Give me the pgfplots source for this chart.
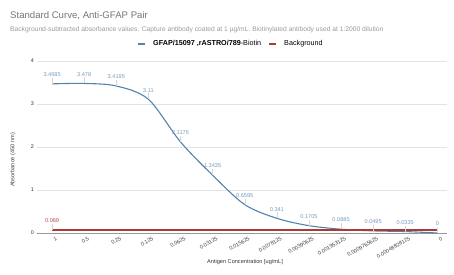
\documentclass[border=0pt]{standalone}
\usepackage{pgfplots}
\pgfplotsset{compat=1.18}
\usepackage{fontspec}
\setmainfont{Liberation Sans}
\definecolor{lineblue}{HTML}{5183AE}
\definecolor{lblblue}{HTML}{739DC2}
\definecolor{linered}{HTML}{AE3A35}
\definecolor{lblred}{HTML}{BB4A45}
\definecolor{titlegray}{HTML}{757575}
\definecolor{subgray}{HTML}{9A9A9A}
\definecolor{gridgray}{HTML}{E3E3E3}
\definecolor{leadgray}{HTML}{D6D6D6}
\begin{document}
\begin{tikzpicture}
\useasboundingbox (0pt,0pt) rectangle (454pt,275pt);
\node[anchor=base west, inner sep=0, text=titlegray, font=\fontsize{9.6}{11}\selectfont] at (10pt,256pt) {Standard Curve, Anti-GFAP Pair};
\node[anchor=base west, inner sep=0, text=subgray, font=\fontsize{6.7}{7}\selectfont] at (10pt,243.5pt) {Background-subtracted absorbance values. Capture antibody coated at 1 µg/mL. Biotinylated antibody used at 1:2000 dilution};
\node[rotate=90, inner sep=0, text=black!75, font=\fontsize{5.6}{6}\selectfont] at (13pt,115pt) {Absorbance (450 nm)};
\node[inner sep=0, text=black!80, font=\fontsize{5.6}{6}\selectfont] at (245pt,13pt) {Antigen Concentration [ug/mL]};
\begin{axis}[
  at={(37pt,42pt)}, anchor=south west,
  scale only axis, width=410pt, height=172pt,
  xmin=-0.47, xmax=12.3, ymin=0, ymax=4,
  axis line style={draw=none},
  xtick={0,...,12},
  xticklabels={1,0.5,0.25,0.125,0.0625,0.03125,0.015625,0.0078125,0.00390625,0.001953125,0.0009765625,0.00048828125,0},
  ytick={0,1,2,3,4},
  major tick length=0pt,
  ymajorgrids, grid style={gridgray, line width=0.6pt},
  xticklabel style={rotate=30, anchor=north east, font=\fontsize{5.4}{6}\selectfont, text=black!75, inner sep=0.5pt, yshift=-4pt, xshift=2pt},
  yticklabel style={font=\fontsize{5.4}{6}\selectfont, text=black!80, inner sep=1pt, xshift=-2pt},
  /pgf/number format/assume math mode=true,
  legend columns=2,
  legend style={draw=none, fill=none, at={(0.473,1)}, anchor=center, yshift=17pt,
    font=\fontsize{7.2}{8}\selectfont, column sep=5pt, inner sep=0pt},
  legend cell align=left,
  legend image code/.code={\draw[#1, line width=2pt] (0pt,0pt) -- (7pt,0pt);},
  clip=false,
]
\draw[black!40, line width=0.7pt] (axis cs:-0.47,0) -- (axis cs:12.3,0);
\addplot[lineblue, line width=1.1pt, smooth, tension=0.5, no markers] table[x=x, y=y] {
x y
0 3.4685
1 3.478
2 3.4195
3 3.11
4 2.1175
5 1.3435
6 0.6595
7 0.341
8 0.1705
9 0.0885
10 0.0495
11 0.0335
12 0
};
\addlegendentry{\textbf{GFAP/15097 ,rASTRO/789}-Biotin}
\addplot[linered, line width=1.4pt, no markers] table[x=x, y=y] {
x y
0 0.069
1 0.069
2 0.069
3 0.069
4 0.069
5 0.069
6 0.069
7 0.069
8 0.069
9 0.069
10 0.069
11 0.069
12 0.069
};
\addlegendentry{Background}
\addplot[forget plot, draw=none, no markers,
  error bars/.cd, y dir=plus, y fixed=0.14, error mark=none,
  error bar style={leadgray, line width=0.4pt}] table[x=x, y=y] {
x y
0 3.4685
1 3.478
2 3.4195
3 3.11
4 2.1175
5 1.3435
6 0.6595
7 0.341
8 0.1705
9 0.0885
10 0.0495
11 0.0335
12 0
};
\addplot[forget plot, draw=none, no markers,
  point meta=explicit symbolic,
  nodes near coords={\pgfplotspointmeta},
  every node near coord/.style={anchor=south, inner sep=0pt, yshift=7pt, text=lblblue, font=\fontsize{5.6}{6}\selectfont}] table[x=x, y=y, meta=label] {
x y label
0 3.4685 3.4685
1 3.478 3.478
2 3.4195 3.4195
3 3.11 3.11
4 2.1175 2.1175
5 1.3435 1.3435
6 0.6595 0.6595
7 0.341 0.341
8 0.1705 0.1705
9 0.0885 0.0885
10 0.0495 0.0495
11 0.0335 0.0335
12 0 0
};
\addplot[forget plot, draw=none, no markers,
  error bars/.cd, y dir=plus, y fixed=0.14, error mark=none,
  error bar style={leadgray, line width=0.4pt}] coordinates {(0,0.069)};
\addplot[forget plot, draw=none, no markers,
  point meta=explicit symbolic,
  nodes near coords={\pgfplotspointmeta},
  every node near coord/.style={anchor=south, inner sep=0pt, yshift=7pt, text=lblred, font=\fontsize{5.6}{6}\selectfont}] table[x=x, y=y, meta=label] {
x y label
0 0.069 0.069
};
\end{axis}
\end{tikzpicture}
\end{document}
